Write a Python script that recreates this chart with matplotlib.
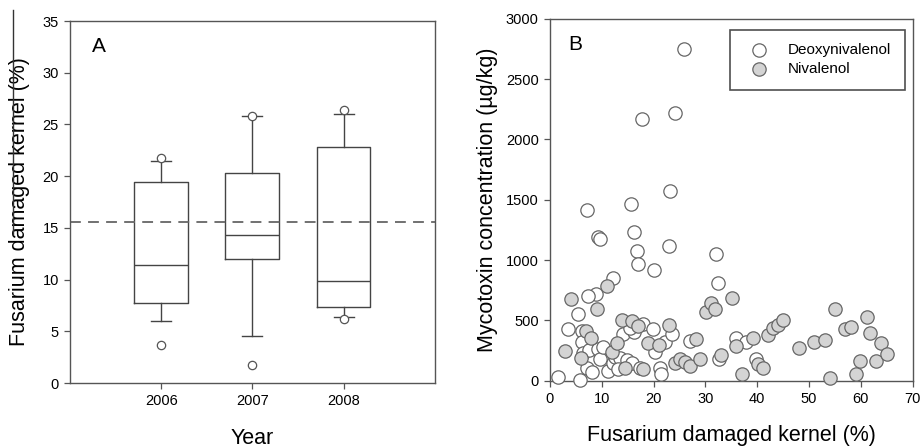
import matplotlib
matplotlib.use("Agg")
import matplotlib.pyplot as plt
from matplotlib.lines import Line2D

plt.rcParams['font.family'] = ['Liberation Sans', 'DejaVu Sans']

# Panel A: box plot per year
years = ["2006", "2007", "2008"]
medians = [11.4, 14.35, 9.85]
q1 = [7.7, 12.0, 7.35]
q3 = [19.4, 20.35, 22.8]
whisker_low = [6.0, 4.55, 6.35]
whisker_high = [21.5, 25.8, 26.05]
outliers = [[21.8, 3.65], [25.85, 1.7], [26.35, 6.15]]
threshold = 15.55

# Panel B: mycotoxin vs damaged kernels
don_x = [25.9, 24.2, 17.7, 23.2, 15.7, 7.2, 16.2, 9.2, 9.6, 23.0, 16.9, 32.1,
         17.0, 20.1, 12.2, 32.4, 9.0, 7.3, 5.5, 3.6, 6.3, 6.2, 6.4, 7.6, 7.1,
         8.1, 9.3, 9.6, 10.3, 11.2, 12.2, 12.5, 13.5, 13.2, 14.1, 14.8, 15.8,
         16.3, 15.4, 17.9, 17.4, 19.9, 20.2, 21.2, 21.5, 22.2, 23.5, 27.1,
         32.6, 36.0, 37.8, 39.7, 1.6, 5.8]
don_y = [2748, 2223, 2168, 1574, 1467, 1417, 1237, 1190, 1172, 1121, 1072, 1050,
         970, 920, 851, 809, 720, 699, 552, 432, 409, 322, 229, 257, 108,
         74, 266, 177, 284, 80, 146, 201, 188, 95, 385, 174, 146,
         405, 436, 472, 105, 432, 240, 105, 55, 320, 392, 334,
         182, 354, 318, 177, 34, 5]
niv_x = [11.0, 4.0, 9.1, 3.0, 6.9, 8.0, 6.0, 11.9, 12.9, 13.9, 14.5, 15.9, 17.0,
         18.0, 19.0, 21.0, 22.9, 24.1, 25.1, 26.0, 27.0, 28.1, 29.0, 30.1, 31.0,
         31.9, 33.0, 35.2, 36.0, 37.1, 39.1, 40.2, 41.1, 42.0, 43.1, 44.0, 45.0,
         48.1, 51.0, 53.0, 54.0, 55.0, 56.9, 58.0, 59.0, 59.9, 61.1, 61.8, 63.0,
         63.9, 65.0]
niv_y = [784, 679, 594, 249, 410, 358, 190, 243, 310, 500, 105, 492, 458,
         97, 312, 296, 462, 150, 182, 155, 127, 345, 177, 572, 644,
         594, 215, 687, 292, 60, 352, 138, 110, 378, 436, 464, 500,
         276, 318, 340, 22, 594, 431, 450, 58, 166, 533, 395, 168,
         312, 221]

edge = "#555555"
fig = plt.figure(figsize=(9.21, 4.47), dpi=100)

# --- A ---
ax1 = fig.add_axes([0.076, 0.143, 0.396, 0.810])
stats = []
for i in range(len(years)):
    stats.append({"med": medians[i], "q1": q1[i], "q3": q3[i],
                  "whislo": whisker_low[i], "whishi": whisker_high[i],
                  "fliers": outliers[i], "label": years[i]})
line_kw = dict(color="#444444", linewidth=1.0)
ax1.bxp(stats, positions=[1, 2, 3], widths=0.59, capwidths=0.22,
        boxprops=line_kw, medianprops=line_kw, whiskerprops=line_kw,
        capprops=line_kw,
        flierprops=dict(marker="o", markersize=6, markerfacecolor="white",
                        markeredgecolor="#555555", markeredgewidth=0.9))
ax1.axhline(threshold, color="#666666", linestyle=(0, (6, 4)), linewidth=1.3)
ax1.set_xlim(0, 4)
ax1.set_ylim(0, 35)
ax1.set_yticks(range(0, 36, 5))
ax1.set_xlabel("Year", fontsize=15.5, labelpad=14)
ax1.set_ylabel("Fusarium damaged kernel (%)", fontsize=15.5, labelpad=9)
ax1.text(0.06, 0.955, "A", transform=ax1.transAxes, fontsize=15, va="top")

# --- B ---
ax2 = fig.add_axes([0.597, 0.148, 0.394, 0.810])
ax2.scatter(don_x, don_y, s=92, facecolor="white", edgecolor="#666666",
            linewidth=0.9, label="Deoxynivalenol", zorder=3, clip_on=False)
ax2.scatter(niv_x, niv_y, s=92, facecolor="#d4d4d4", edgecolor="#666666",
            linewidth=0.9, label="Nivalenol", zorder=3, clip_on=False)
ax2.set_xlim(0, 70)
ax2.set_ylim(0, 3000)
ax2.set_xticks(range(0, 71, 10))
ax2.set_yticks(range(0, 3001, 500))
ax2.set_xlabel("Fusarium damaged kernel (%)", fontsize=15.5, labelpad=14)
ax2.set_ylabel("Mycotoxin concentration (µg/kg)", fontsize=15.5, labelpad=6)
ax2.text(0.05, 0.955, "B", transform=ax2.transAxes, fontsize=15, va="top")
leg = ax2.legend(loc="upper right", bbox_to_anchor=(0.978, 0.97), fontsize=11,
                 frameon=True, fancybox=False, borderpad=0.9, handletextpad=0.9,
                 labelspacing=0.3, borderaxespad=0, handlelength=2.0)
leg.get_frame().set_edgecolor("#222222")
leg.get_frame().set_linewidth(1.2)

for ax in (ax1, ax2):
    for sp in ax.spines.values():
        sp.set_color(edge)
        sp.set_linewidth(1.0)
    ax.tick_params(direction="out", length=4, width=0.9, color=edge,
                   labelsize=10.5, pad=4)

# stray line over the left y label in the original scan
fig.add_artist(Line2D([0.0141, 0.0141], [0.978, 0.476], color="#333333",
                      linewidth=1.0))

fig.savefig("out.png", dpi=100)
